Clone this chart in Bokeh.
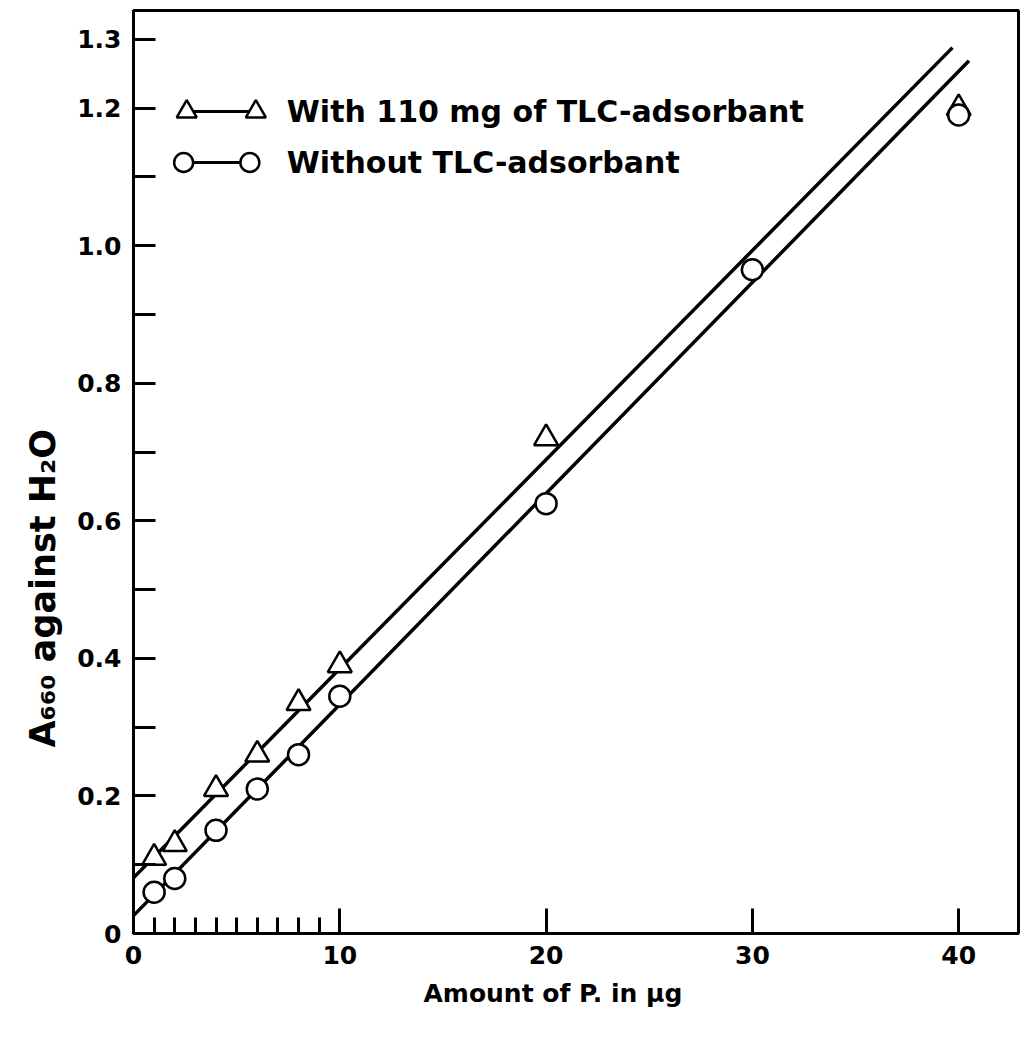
import math
from bokeh.plotting import figure
from bokeh.models import FixedTicker, Label, Range1d, Title
from bokeh.embed import file_html
from bokeh.resources import INLINE

# ---- data ----
tri_x = [1, 2, 4, 6, 8, 10, 20, 40]
tri_y = [0.11, 0.13, 0.21, 0.26, 0.335, 0.39, 0.72, 1.20]
cir_x = [1, 2, 4, 6, 8, 10, 20, 30, 40]
cir_y = [0.06, 0.08, 0.15, 0.21, 0.26, 0.345, 0.625, 0.965, 1.19]
# fitted straight lines (end points)
tri_fit_x = [0, 39.7]
tri_fit_y = [0.081, 1.288]
cir_fit_x = [0, 40.5]
cir_fit_y = [0.026, 1.269]

x_ticks = [0, 10, 20, 30, 40]
x_minor = [1, 2, 3, 4, 5, 6, 7, 8, 9]
y_ticks = [0, 0.1, 0.2, 0.3, 0.4, 0.5, 0.6, 0.7, 0.8, 0.9, 1.0, 1.1, 1.2, 1.3]
y_labels = ["0", "", "0.2", "", "0.4", "", "0.6", "", "0.8", "", "1.0", "", "1.2", "1.3"]

legend_labels = ["With 110 mg of TLC-adsorbant", "Without TLC-adsorbant"]
x_title = "Amount of P. in µg"
y_title = "A₆₆₀ against  H₂O"

FONT = "DejaVu Sans"
W, H = 1020, 1035
LEFT, TOP, RIGHT, BOTTOM = 133, 10, 2, 102

p = figure(width=W, height=H, output_backend="svg", toolbar_location=None,
           x_range=Range1d(0, 42.9), y_range=Range1d(0, 1.342),
           min_border_left=LEFT, min_border_right=RIGHT, min_border_top=TOP,
           min_border_bottom=BOTTOM)
p.grid.visible = False
p.outline_line_color = "black"
p.outline_line_width = 3
p.background_fill_color = "white"
p.border_fill_color = "white"

# axes
p.xaxis.ticker = FixedTicker(ticks=x_ticks, minor_ticks=x_minor)
p.yaxis.ticker = FixedTicker(ticks=y_ticks)
p.yaxis.major_label_overrides = {v: s for v, s in zip(y_ticks, y_labels)}
for ax in (p.xaxis[0], p.yaxis[0]):
    ax.axis_line_width = 3
    ax.axis_line_color = "black"
    ax.major_tick_line_width = 3
    ax.minor_tick_line_width = 3
    ax.major_tick_out = 0
    ax.minor_tick_out = 0
    ax.major_label_text_font = FONT
    ax.major_label_text_font_size = "25px"
    ax.major_label_text_font_style = "bold"
    ax.major_label_text_color = "black"
p.xaxis.major_tick_in = 25
p.xaxis.minor_tick_in = 16
p.xaxis.major_label_standoff = 12
p.yaxis.major_tick_in = 22
p.yaxis.minor_tick_line_color = None
p.yaxis.major_label_standoff = 12

# axis titles as side titles (offset shifts them along the axis)
p.add_layout(Title(text=x_title, align="left", offset=290, standoff=20,
                   text_font=FONT, text_font_size="25px", text_font_style="bold",
                   text_color="black"), "below")
p.add_layout(Title(text=y_title, align="left", offset=186, standoff=24,
                   text_font=FONT, text_font_size="35px", text_font_style="bold",
                   text_color="black"), "left")

# fit lines
p.line(tri_fit_x, tri_fit_y, line_color="black", line_width=3.5)
p.line(cir_fit_x, cir_fit_y, line_color="black", line_width=3.5)

# points
p.scatter(tri_x, tri_y, marker="triangle", size=24, fill_color="white",
          line_color="black", line_width=2.5)
p.scatter(cir_x, cir_y, marker="circle", size=21, fill_color="white",
          line_color="black", line_width=2.5)

# legend (hand-drawn like the original)
leg_tri_x = [2.58, 5.93]
leg_cir_x = [2.43, 5.64]
leg_y = [1.195, 1.121]
p.line(leg_tri_x, [leg_y[0]] * 2, line_color="black", line_width=3)
p.scatter(leg_tri_x, [leg_y[0]] * 2, marker="triangle", size=20, fill_color="white",
          line_color="black", line_width=2.5)
p.line(leg_cir_x, [leg_y[1]] * 2, line_color="black", line_width=3)
p.scatter(leg_cir_x, [leg_y[1]] * 2, marker="circle", size=19, fill_color="white",
          line_color="black", line_width=2.5)
for yy, txt in zip(leg_y, legend_labels):
    p.add_layout(Label(x=7.43, y=yy, text=txt, text_font=FONT, text_font_size="30px",
                       text_font_style="bold",
                       text_baseline="middle", text_align="left", text_color="black"))

open("out.html", "w").write(file_html(p, INLINE))
